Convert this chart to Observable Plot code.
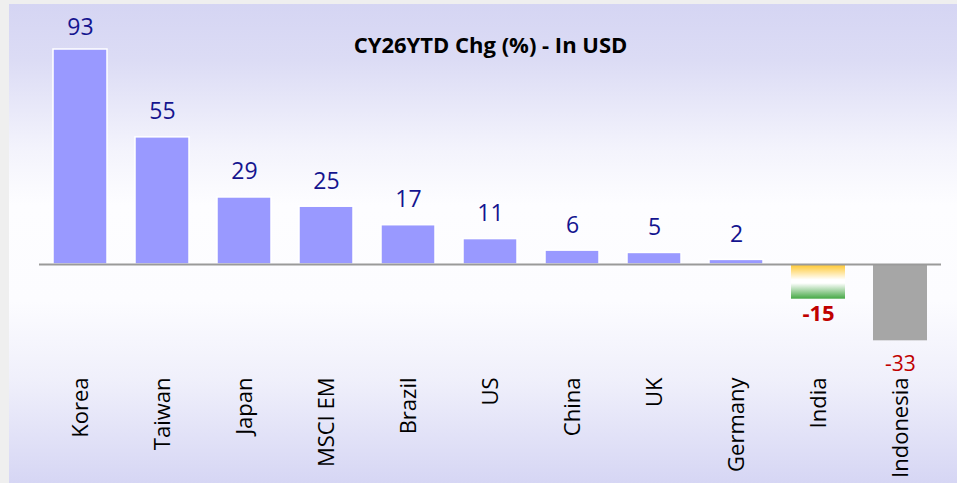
<!DOCTYPE html>
<html>
<head>
<meta charset="utf-8">
<script src="https://cdn.jsdelivr.net/npm/d3@7"></script>
<script src="https://cdn.jsdelivr.net/npm/@observablehq/plot@0.6"></script>
<style>
  html, body { margin: 0; padding: 0; width: 957px; height: 483px; overflow: hidden; background: #efefef; }
  #bg { position: absolute; left: 9px; top: 4px; right: 0; bottom: 0;
        background: linear-gradient(to bottom, #d5d5f3 0%, #dcdcf5 12%, #f3f3fc 30%, #fdfdff 42%, #fcfcff 62%, #f0f0fb 78%, #d6d6f4 100%); }
  #chart { position: absolute; left: 0; top: 0; }
</style>
</head>
<body>
<div id="bg"></div>
<div id="chart"></div>
<script>
const countries = ["Korea", "Taiwan", "Japan", "MSCI EM", "Brazil", "US", "China", "UK", "Germany", "India", "Indonesia"];
const values = [93, 55, 29, 25, 17, 11, 6, 5, 2, -15, -33];
const titleText = "CY26YTD Chg (%) - In USD";

const data = countries.map((c, i) => ({country: c, value: values[i]}));
const regular = data.filter(d => d.country !== "India" && d.country !== "Indonesia");
const india = data.filter(d => d.country === "India");
const indonesia = data.filter(d => d.country === "Indonesia");
const posTop = regular.filter(d => d.country === "Korea");
const posRest = regular.filter(d => d.country !== "Korea");

const plot = Plot.plot({
  width: 957,
  height: 483,
  marginLeft: 39,
  marginRight: 16,
  marginTop: 20,
  marginBottom: 118,
  style: {background: "transparent", fontFamily: "Open Sans", overflow: "visible"},
  x: {domain: countries, paddingInner: 0.34, paddingOuter: 0.17, label: null},
  y: {domain: [-43.68, 105.54], axis: null},
  marks: [
    Plot.barY(regular, {x: "country", y: "value", fill: "#9999ff", stroke: "#ffffff", strokeWidth: 1.5}),
    Plot.barY(india, {x: "country", y: "value", fill: "url(#indiaGrad)"}),
    Plot.barY(indonesia, {x: "country", y: "value", fill: "#a6a6a6"}),
    Plot.ruleY([0], {stroke: "#9a9a9a", strokeWidth: 2}),
    Plot.text(posTop, {x: "country", y: "value", text: d => String(d.value), lineAnchor: "bottom", dy: -14, fill: "#14148f", fontSize: 23}),
    Plot.text(posRest, {x: "country", y: "value", text: d => String(d.value), lineAnchor: "bottom", dy: -18, fill: "#14148f", fontSize: 23}),
    Plot.text(india, {x: "country", y: "value", text: d => String(d.value), lineAnchor: "bottom", dy: 22, fill: "#c00000", fontSize: 22, fontWeight: "bold"}),
    Plot.text(indonesia, {x: "country", y: "value", text: d => String(d.value), lineAnchor: "bottom", dy: 30, fill: "#c00000", fontSize: 21}),
    Plot.axisX({anchor: "bottom", tickSize: 0, tickPadding: 12, tickRotate: -90, fontSize: 22, label: null, color: "#000"}),
    Plot.text([titleText], {frameAnchor: "top", lineAnchor: "bottom", dy: 32, fontSize: 22, fontWeight: "bold", fill: "#000"})
  ]
});

const svg = d3.select(plot);
const grad = svg.insert("defs", ":first-child").append("linearGradient")
  .attr("id", "indiaGrad").attr("x1", 0).attr("y1", 0).attr("x2", 0).attr("y2", 1);
grad.append("stop").attr("offset", "0%").attr("stop-color", "#ffc526");
grad.append("stop").attr("offset", "45%").attr("stop-color", "#ffffff");
grad.append("stop").attr("offset", "55%").attr("stop-color", "#ffffff");
grad.append("stop").attr("offset", "100%").attr("stop-color", "#45a845");

document.getElementById("chart").appendChild(plot);
</script>
</body>
</html>
